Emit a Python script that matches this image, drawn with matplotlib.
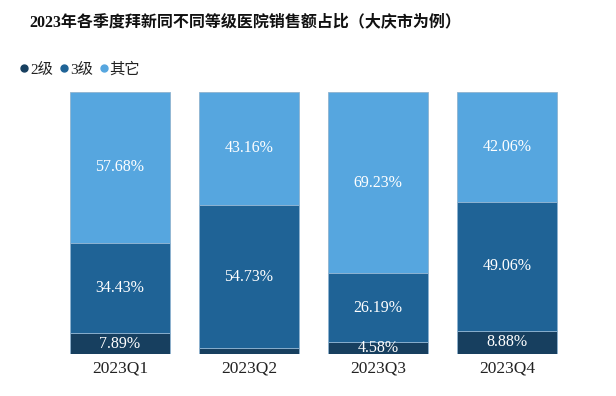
import matplotlib
matplotlib.use("Agg")
import matplotlib.pyplot as plt
import numpy as np

categories = ["2023Q1", "2023Q2", "2023Q3", "2023Q4"]
series_names = ["2级", "3级", "其它"]
level2 = [7.89, 2.11, 4.58, 8.88]
level3 = [34.43, 54.73, 26.19, 49.06]
others = [57.68, 43.16, 69.23, 42.06]
show_label = [[True, False, True, True], [True, True, True, True], [True, True, True, True]]
colors = ["#173f5f", "#1f6396", "#56a6df"]

plt.rcParams['font.family'] = ['Liberation Serif', 'Noto Sans CJK SC', 'DejaVu Sans']

fig = plt.figure(figsize=(6.16, 3.96), dpi=100)
ax = fig.add_axes([0.09, 0.106, 0.838, 0.662])

x = np.arange(len(categories))
bottom = np.zeros(len(categories))
for i, (vals, c) in enumerate(zip([level2, level3, others], colors)):
    bars = ax.bar(x, vals, 0.775, bottom=bottom, color=c, edgecolor='#8fb3d0', linewidth=0.6, label=series_names[i])
    for j, v in enumerate(vals):
        if show_label[i][j]:
            ax.text(x[j], bottom[j] + v / 2, f"{v:.2f}%", ha='center', va='center',
                    color='white', fontsize=11.5, family=['Liberation Serif'])
    bottom += np.array(vals)

ax.set_xlim(-0.5, 3.5)
ax.set_ylim(0, 100)
ax.set_xticks(x)
ax.set_xticklabels(categories, fontsize=12.5, color='#222222', family=['Liberation Serif'])
ax.tick_params(axis='x', length=0, pad=5)
ax.set_yticks([])
for s in ax.spines.values():
    s.set_visible(False)

fig.text(0.048, 0.945, "2023年各季度拜新同不同等级医院销售额占比（大庆市为例）", fontsize=11.5,
         fontweight='bold', ha='left', va='center', color='#111111')

leg = fig.legend(handles=[plt.Line2D([], [], marker='o', ls='', color=c, markersize=5) for c in colors],
                 labels=series_names, loc='center left', bbox_to_anchor=(0.012, 0.825),
                 ncol=3, frameon=False, fontsize=11, handletextpad=0.0, columnspacing=0.3,
                 handlelength=0.8, borderpad=0.2)
for t in leg.get_texts():
    t.set_color('#222222')

fig.savefig("out.png", dpi=100)
